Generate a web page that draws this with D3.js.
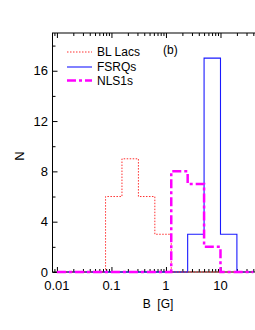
<!DOCTYPE html>
<html>
<head>
<meta charset="utf-8">
<script src="https://cdn.jsdelivr.net/npm/d3@7"></script>
<style>
  body { margin: 0; background: #fff; }
  text { font-family: Arial, "Liberation Sans", sans-serif; fill: #000; }
</style>
</head>
<body>
<svg id="chart"></svg>
<script>
// bin edges in B [G] (log binning, factor 2)
const binEdges = [0.01, 0.02, 0.04, 0.078, 0.156, 0.3125, 0.625, 1.25, 2.5, 5, 10, 20, 40]
// counts per bin
const blLacs = [0, 0, 0, 6, 9, 6, 3, 0, 0, 0, 0, 0]
const fsrqs  = [0, 0, 0, 0, 0, 0, 0, 0, 3, 17, 3, 0]
const nls1s  = [0, 0, 0, 0, 0, 0, 0, 8, 7, 2, 0, 0]

const seriesNames = ['BL Lacs', 'FSRQs', 'NLS1s']
const xTickValues = [0.01, 0.1, 1, 10]
const xTickLabels = ['0.01', '0.1', '1', '10']
const yTickValues = [0, 4, 8, 12, 16]

const W = 255, H = 330
const margin = {top: 33, left: 52.5}
const plotBottom = 272
const xmin = 0.0083, xmax = 50

const svg = d3.select('#chart').attr('width', W).attr('height', H)

const xscale = d3.scaleLog().domain([xmin, xmax]).range([margin.left, 258.6])
const yscale = d3.scaleLinear().domain([0, 19]).range([plotBottom, margin.top])

// minor ticks for log axis
const minorX = []
for (let e = -3; e <= 1; e++) {
  for (let m = 1; m <= 9; m++) {
    const v = m * Math.pow(10, e)
    if (v >= xmin && v <= xmax && m !== 1) minorX.push(v)
  }
}
const minorY = d3.range(2, 19, 4)

const axes = svg.append('g')

// bottom axis
axes.append('g').attr('transform', `translate(0,${plotBottom})`)
  .call(d3.axisTop(xscale).tickValues(xTickValues).tickSize(5).tickFormat(''))
  .call(g => g.select('.domain').remove())
axes.append('g').attr('transform', `translate(0,${plotBottom})`)
  .call(d3.axisTop(xscale).tickValues(minorX).tickSize(3).tickFormat(''))
  .call(g => g.select('.domain').remove())
// top axis
axes.append('g').attr('transform', `translate(0,${margin.top})`)
  .call(d3.axisBottom(xscale).tickValues(xTickValues).tickSize(5).tickFormat(''))
  .call(g => g.select('.domain').remove())
axes.append('g').attr('transform', `translate(0,${margin.top})`)
  .call(d3.axisBottom(xscale).tickValues(minorX).tickSize(3).tickFormat(''))
  .call(g => g.select('.domain').remove())
// left axis
axes.append('g').attr('transform', `translate(${margin.left},0)`)
  .call(d3.axisRight(yscale).tickValues(yTickValues).tickSize(5).tickFormat(''))
  .call(g => g.select('.domain').remove())
axes.append('g').attr('transform', `translate(${margin.left},0)`)
  .call(d3.axisRight(yscale).tickValues(minorY).tickSize(3).tickFormat(''))
  .call(g => g.select('.domain').remove())

axes.selectAll('line').attr('stroke', '#000').attr('stroke-width', 1)

// frame
axes.append('rect')
  .attr('x', margin.left).attr('y', margin.top)
  .attr('width', xscale(xmax) - margin.left).attr('height', plotBottom - margin.top)
  .attr('fill', 'none').attr('stroke', '#000').attr('stroke-width', 1)

// tick labels
svg.append('g').selectAll('text').data(xTickValues).join('text')
  .attr('x', d => xscale(d)).attr('y', 290)
  .attr('text-anchor', 'middle').attr('font-size', 13)
  .text((d, i) => xTickLabels[i])
svg.append('g').selectAll('text').data(yTickValues).join('text')
  .attr('x', 48).attr('y', d => yscale(d) + 4.5)
  .attr('text-anchor', 'end').attr('font-size', 13)
  .text(d => d)

// axis titles
svg.append('text').attr('x', 158).attr('y', 308)
  .attr('text-anchor', 'middle').attr('font-size', 12).attr('xml:space', 'preserve')
  .text('B  [G]')
svg.append('text').attr('transform', 'translate(24,156) rotate(-90)')
  .attr('text-anchor', 'middle').attr('font-size', 13)
  .text('N')

// histograms
const styles = {
  'BL Lacs': {color: '#ff3030', width: 1, dash: '1.5,1.5'},
  'FSRQs':   {color: '#1a1aff', width: 1.1, dash: null},
  'NLS1s':   {color: '#ff00ff', width: 2.5, dash: '9,3,3,3'}
}
const line = d3.line().x(d => xscale(d[0])).y(d => yscale(d[1])).curve(d3.curveStepAfter)
function stepPoints(counts) {
  const pts = [[binEdges[0], 0]]
  counts.forEach((c, i) => pts.push([binEdges[i], c]))
  pts.push([binEdges[binEdges.length - 1], 0])
  return pts
}
const drawOrder = [['FSRQs', fsrqs], ['BL Lacs', blLacs], ['NLS1s', nls1s]]
drawOrder.forEach(([name, counts]) => {
  const s = styles[name]
  svg.append('path')
    .attr('d', line(stepPoints(counts)))
    .attr('fill', 'none')
    .attr('stroke', s.color)
    .attr('stroke-width', s.width)
    .attr('stroke-dasharray', s.dash)
})

// legend
const legend = svg.append('g')
seriesNames.forEach((name, i) => {
  const s = styles[name]
  const y = [52, 67, 80.5][i]
  legend.append('line')
    .attr('x1', 67).attr('x2', 92).attr('y1', y).attr('y2', y)
    .attr('stroke', s.color).attr('stroke-width', s.width)
    .attr('stroke-dasharray', s.dash)
  legend.append('text').attr('x', 97).attr('y', y + 4.3)
    .attr('font-size', 12).text(name)
})

svg.append('text').attr('x', 163).attr('y', 54).attr('font-size', 12).text('(b)')
</script>
</body>
</html>
